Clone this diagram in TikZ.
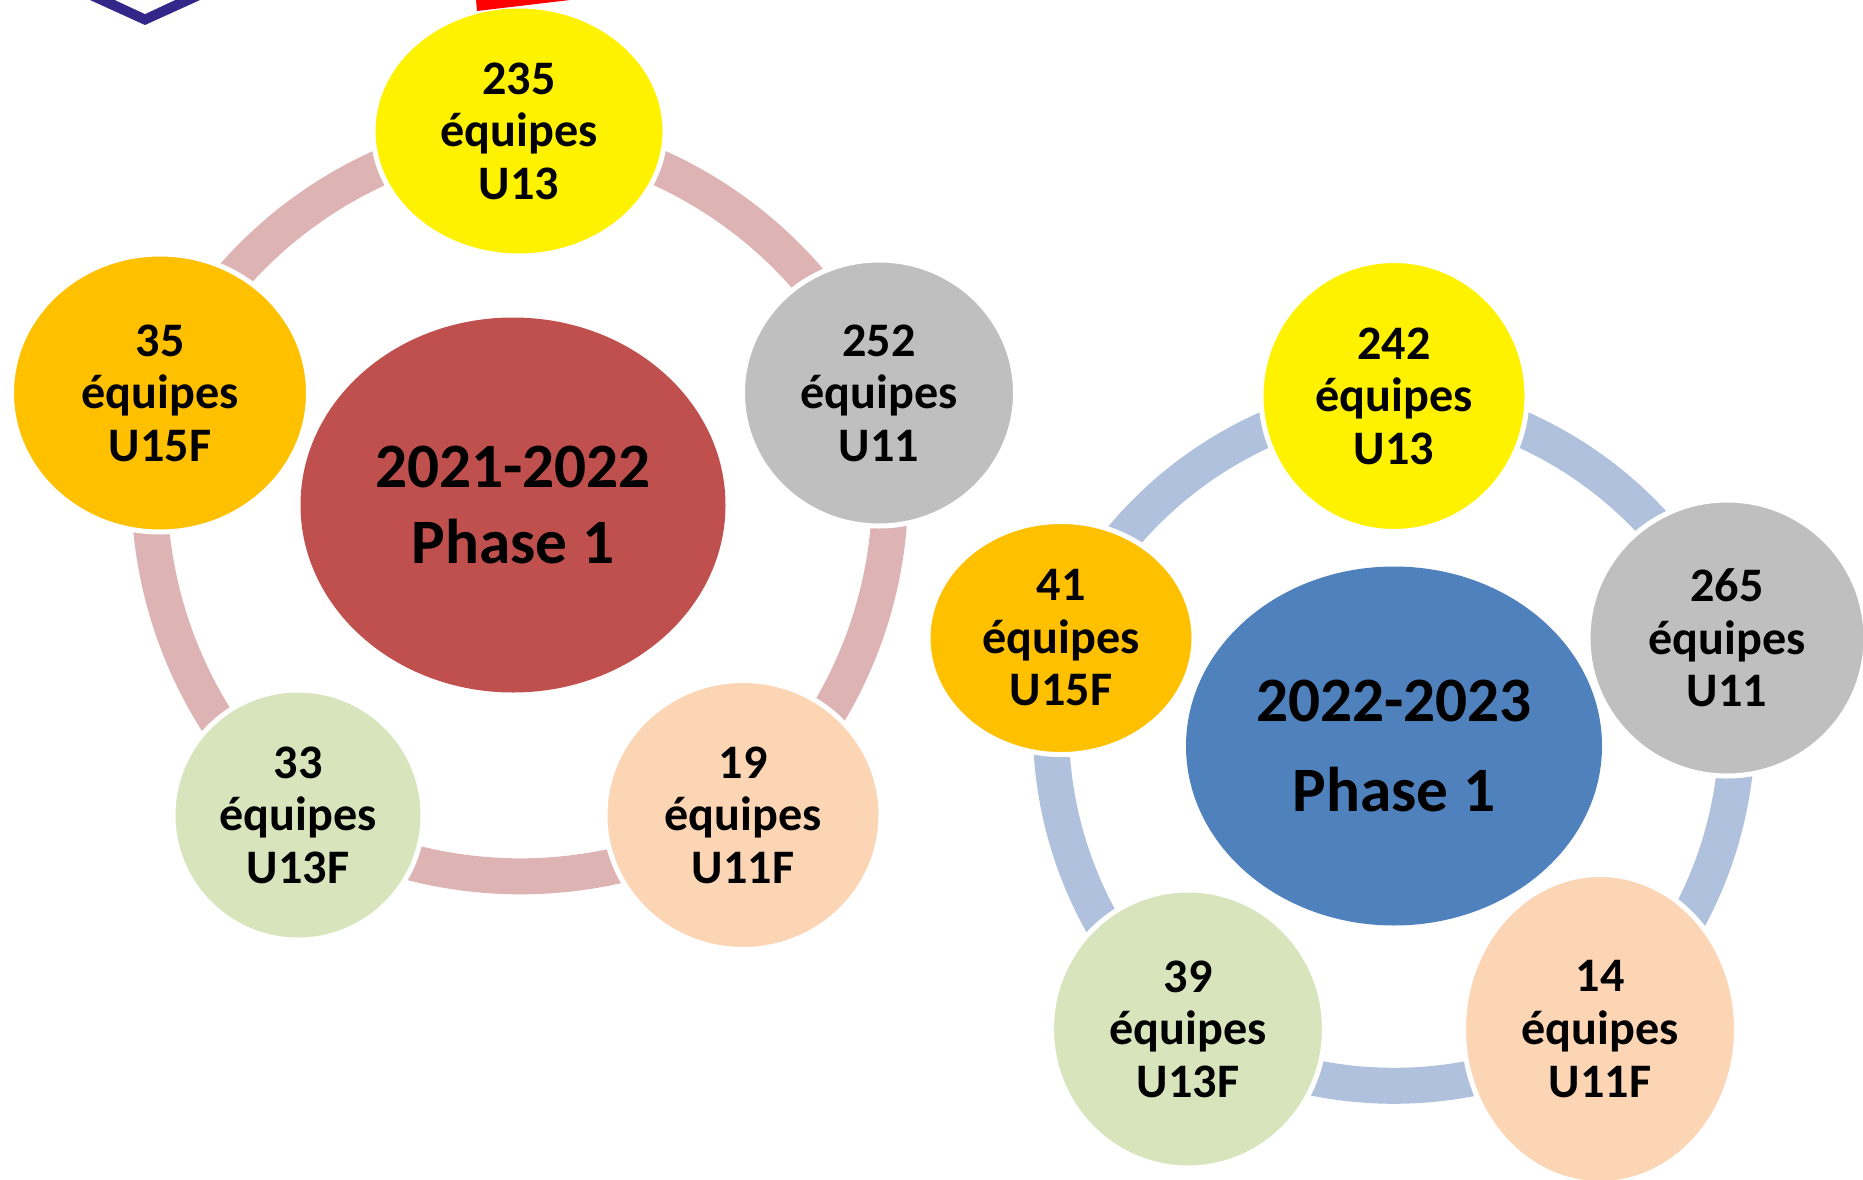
\documentclass[tikz,border=0pt]{standalone}
\usepackage{fontspec}
\setmainfont{Carlito}
\usetikzlibrary{shapes.geometric, backgrounds}

\definecolor{ringred}{HTML}{DDB3B3}
\definecolor{ringblue}{HTML}{B0C1DD}
\definecolor{phasered}{HTML}{C0504D}
\definecolor{phaseblue}{HTML}{4F81BD}
\definecolor{shieldblue}{HTML}{33278A}

\begin{document}
\begin{tikzpicture}[
    x=0.02cm, y=-0.02cm,
    teambox/.style={ellipse, draw=white, line width=0.1cm, inner sep=0pt, align=center,
                    font=\fontsize{27.4}{29.9}\selectfont\bfseries},
    phasebox/.style={ellipse, inner sep=0pt, align=center,
                     font=\fontsize{36}{40}\selectfont\bfseries},
    size/.style n args={2}{minimum width=#1*0.02cm, minimum height=#2*0.02cm},
    u13/.style={fill=yellow},
    u11/.style={fill=black!25},
    u11f/.style={fill=orange!0!white, fill={rgb,255:red,252;green,213;blue,181}},
    u13f/.style={fill={rgb,255:red,216;green,228;blue,188}},
    u15f/.style={fill={rgb,255:red,255;green,192;blue,0}},
    ringline/.style={line width=0.72cm, bend left=31, looseness=0.915}
]
\useasboundingbox (0,0) rectangle (1863,1180);

% ==================== 2021-2022 ====================
\node[phasebox, size={425}{375}, fill=phasered] (phase-a) at (513,505) {2021-2022\\[3pt]Phase 1};

\node[teambox, u13, size={292}{250}] (a-u13) at (519,131) {235\\équipes\\U13};
\node[teambox, u11, size={273}{266}] (a-u11) at (879,393) {252\\équipes\\U11};
\node[teambox, u11f, size={276}{269}] (a-u11f) at (743,815) {19\\équipes\\U11F};
\node[teambox, u13f, size={250}{250}] (a-u13f) at (298,815) {33\\équipes\\U13F};
\node[teambox, u15f, size={297}{278}] (a-u15f) at (160,393) {35\\équipes\\U15F};

% ==================== 2022-2023 ====================
\node[phasebox, size={416}{359}, fill=phaseblue] (phase-b) at (1394,746) {2022-2023\\[11pt]Phase 1};

\node[teambox, u13, size={266}{271}] (b-u13) at (1394,396) {242\\équipes\\U13};
\node[teambox, u11, size={278}{276}] (b-u11) at (1727,638) {265\\équipes\\U11};
\node[teambox, u11f, size={273}{309}] (b-u11f) at (1600,1029) {14\\équipes\\U11F};
\node[teambox, u13f, size={273}{278}] (b-u13f) at (1188,1029) {39\\équipes\\U13F};
\node[teambox, u15f, size={266}{233}] (b-u15f) at (1061,638) {41\\équipes\\U15F};

% ==================== RINGS ====================
\begin{scope}[on background layer]
\draw[ringline, ringred] (a-u13.center) to (a-u11.center);
\draw[ringline, ringred] (a-u11.center) to (a-u11f.center);
\draw[ringline, ringred] (a-u11f.center) to (a-u13f.center);
\draw[ringline, ringred] (a-u13f.center) to (a-u15f.center);
\draw[ringline, ringred] (a-u15f.center) to (a-u13.center);

\draw[ringline, ringblue] (b-u13.center) to (b-u11.center);
\draw[ringline, ringblue] (b-u11.center) to (b-u11f.center);
\draw[ringline, ringblue] (b-u11f.center) to (b-u13f.center);
\draw[ringline, ringblue] (b-u13f.center) to (b-u15f.center);
\draw[ringline, ringblue] (b-u15f.center) to (b-u13.center);
\end{scope}

% ==================== CUT-OFF LOGOS ====================
\begin{scope}
\clip (0,0) rectangle (1863,1180);
\fill[shieldblue] (90,0) -- (145,25) -- (200,0) -- cycle;
\fill[white] (115,0) -- (145,14) -- (175,0) -- cycle;
\fill[red] (476,0) -- (477,11) -- (570,0) -- cycle;
\end{scope}

\end{tikzpicture}
\end{document}
